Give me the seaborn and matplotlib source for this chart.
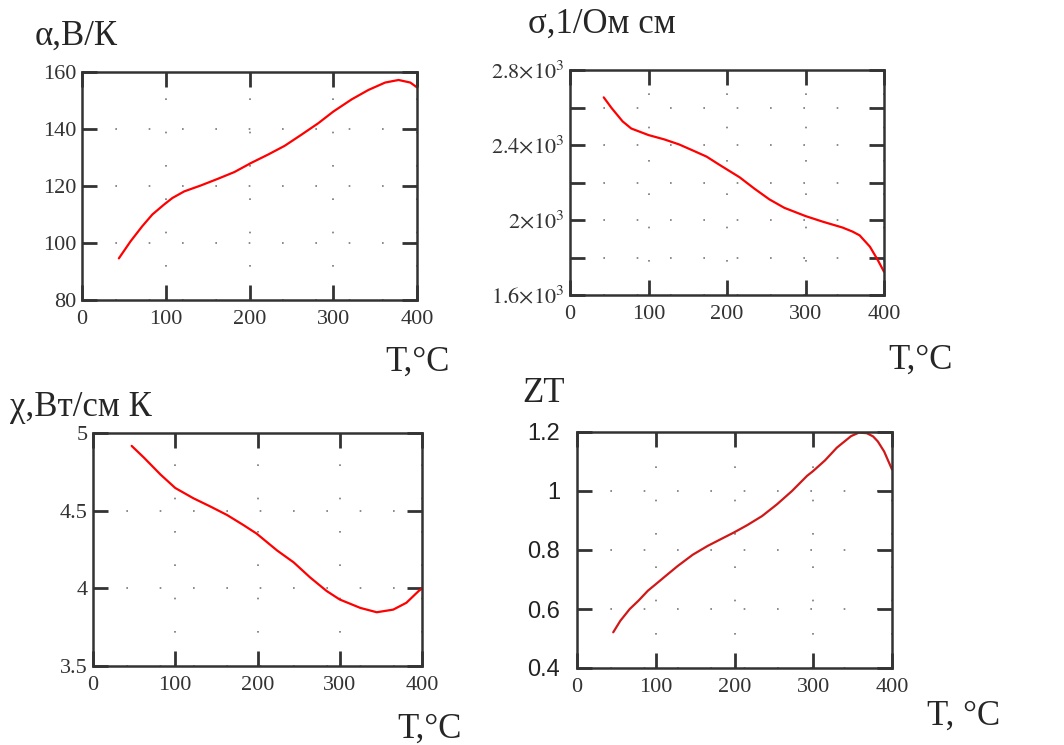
import numpy as np
import pandas as pd
import matplotlib
matplotlib.use("Agg")
import matplotlib.pyplot as plt
import seaborn as sns

# Seebeck coefficient alpha, V/K
t_alpha = [44, 58, 72, 84, 98, 108, 122, 142, 162, 182, 202, 222, 242, 262, 282,
           300, 322, 342, 362, 378, 392, 400]
alpha = [94.6, 100.6, 105.9, 110.0, 113.5, 115.8, 118.1, 120.2, 122.5, 124.9, 128.1,
         131.0, 134.1, 138.0, 142.0, 146.1, 150.4, 153.7, 156.3, 157.2, 156.3, 154.6]

# electrical conductivity sigma, 1/(Ohm cm)
t_sigma = [43, 53, 67, 78, 100, 120, 139, 158, 174, 189, 199, 216, 235, 254, 273,
           300, 322, 347, 360, 369, 382, 392, 400]
sigma = [2654, 2597, 2526, 2488, 2453, 2430, 2403, 2368, 2338, 2298, 2272, 2228, 2167,
         2110, 2065, 2021, 1991, 1960, 1938, 1918, 1858, 1787, 1724]

# thermal conductivity chi, W/(cm K)
t_chi = [47, 62, 82, 100, 122, 143, 163, 183, 199, 224, 244, 264, 284, 300, 325,
         345, 365, 381, 396, 400]
chi = [4.917, 4.841, 4.733, 4.646, 4.580, 4.526, 4.472, 4.407, 4.352, 4.243, 4.167,
       4.070, 3.983, 3.928, 3.874, 3.846, 3.863, 3.907, 3.983, 4.0]

# figure of merit ZT
t_zt = [46, 55, 67, 78, 90, 100, 113, 128, 147, 166, 185, 199, 216, 235, 254, 273,
        292, 300, 315, 330, 348, 358, 368, 376, 382, 390, 400]
zt = [0.521, 0.560, 0.600, 0.628, 0.662, 0.684, 0.713, 0.746, 0.784, 0.814, 0.840,
      0.859, 0.884, 0.915, 0.955, 1.000, 1.051, 1.068, 1.104, 1.147, 1.186, 1.198,
      1.196, 1.185, 1.168, 1.134, 1.073]

x_ticks = [0, 100, 200, 300, 400]

sns.set_theme(style="white")
plt.rcParams['font.family'] = ['Liberation Serif', 'DejaVu Serif']
plt.rcParams['mathtext.fontset'] = 'stix'

fig = plt.figure(figsize=(10.64, 7.45), dpi=100)


def px(x, y):
    return x / 1064, 1 - y / 745


def make_axes(left, top, right, bottom):
    return fig.add_axes([left / 1064, 1 - bottom / 745, (right - left) / 1064, (bottom - top) / 745])


def style_axes(ax, yticks, ylabels, ylim, label_font=None, label_size=16, ypad=4):
    ax.set_xlim(0, 400)
    ax.set_ylim(*ylim)
    ax.set_xticks(x_ticks)
    ax.set_xticklabels([str(v) for v in x_ticks], fontsize=16, color="#333333")
    ax.set_yticks(yticks)
    if label_font:
        ax.set_yticklabels(ylabels, fontsize=label_size, color="#222222", family=label_font)
    else:
        ax.set_yticklabels(ylabels, fontsize=label_size, color="#333333")
    ax.tick_params(direction="in", length=11, width=2, color="#333333",
                   top=True, right=True, bottom=True, left=True)
    ax.tick_params(axis="x", pad=7)
    ax.tick_params(axis="y", pad=ypad)
    ax.grid(True, linestyle=(0, (1, 19)), color="#777777", linewidth=1.2)
    for s in ax.spines.values():
        s.set_color("#333333")
        s.set_linewidth(1.8)
    ax.set_xlabel("")
    ax.set_ylabel("")


# alpha
ax1 = make_axes(82, 72, 417, 300)
sns.lineplot(x=t_alpha, y=alpha, ax=ax1, color="red", linewidth=1.6)
style_axes(ax1, [80, 100, 120, 140, 160], ["80", "100", "120", "140", "160"], (80, 160))
fig.text(*px(35, 36), "α,В/К", fontsize=25, va="center", ha="left")
fig.text(*px(385, 362), "T,°C", fontsize=25, va="center", ha="left")

# sigma
ax2 = make_axes(570, 70, 884, 295)
sns.lineplot(x=t_sigma, y=sigma, ax=ax2, color="red", linewidth=1.6)
sig_ticks = [1600, 1800, 2000, 2200, 2400, 2600, 2800]
sig_labels = [r"$1.6{\times}10^3$", "", r"$2{\times}10^3$", "", r"$2.4{\times}10^3$", "",
              r"$2.8{\times}10^3$"]
style_axes(ax2, sig_ticks, sig_labels, (1600, 2800), label_size=16)
fig.text(*px(528, 24), "σ,1/Ом см", fontsize=25, va="center", ha="left")
fig.text(*px(888, 360), "T,°C", fontsize=25, va="center", ha="left")

# chi
ax3 = make_axes(93, 433, 422, 666)
sns.lineplot(x=t_chi, y=chi, ax=ax3, color="red", linewidth=1.6)
style_axes(ax3, [3.5, 4, 4.5, 5], ["3.5", "4", "4.5", "5"], (3.5, 5))
fig.text(*px(10, 408), "χ,Вт/см К", fontsize=25, va="center", ha="left")
fig.text(*px(397, 729), "T,°C", fontsize=25, va="center", ha="left")

# ZT
ax4 = make_axes(577, 432, 892, 668)
sns.lineplot(x=t_zt, y=zt, ax=ax4, color="#d01818", linewidth=1.6)
style_axes(ax4, [0.4, 0.6, 0.8, 1.0, 1.2], ["0.4", "0.6", "0.8", "1", "1.2"], (0.4, 1.2),
           label_font=["Liberation Sans", "DejaVu Sans"], label_size=17, ypad=12)
fig.text(*px(522, 394), "ZT", fontsize=25, va="center", ha="left")
fig.text(*px(927, 716), "T, °C", fontsize=25, va="center", ha="left")

fig.savefig("out.png", dpi=100, facecolor="white")
